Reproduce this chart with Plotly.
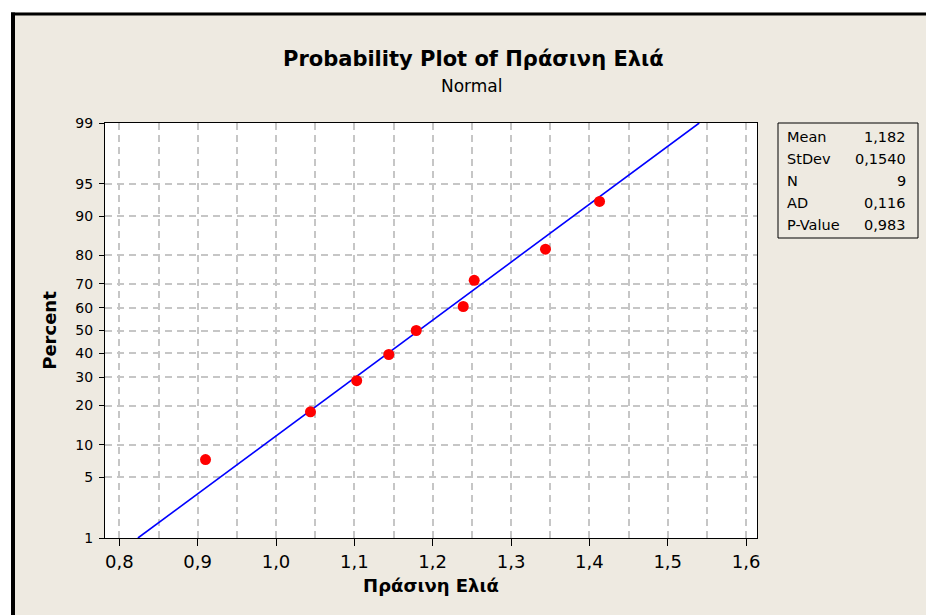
from statistics import NormalDist
import plotly.graph_objects as go

# ---- data ----
values = [0.910, 1.044, 1.103, 1.144, 1.179, 1.239, 1.253, 1.344, 1.413]
percents = [7.4, 18.1, 28.7, 39.4, 50.0, 60.6, 71.3, 81.9, 92.6]
fit_mean = 1.182
fit_stdev = 0.1540
y_tick_percents = [1, 5, 10, 20, 30, 40, 50, 60, 70, 80, 90, 95, 99]
x_tick_values = [0.8, 0.9, 1.0, 1.1, 1.2, 1.3, 1.4, 1.5, 1.6]
stat_labels = ["Mean", "StDev", "N", "AD", "P-Value"]
stat_values = ["1,182", "0,1540", "9", "0,116", "0,983"]

nd = NormalDist()
def pz(p):
    return nd.inv_cdf(p / 100.0)

W, H = 926, 615
L, R, T, B = 105, 757, 123, 538
BEIGE = "#eeeae1"

def px(xp):
    return (xp - L) / (R - L)
def py(yp):
    return (B - yp) / (B - T)

fig = go.Figure()

# fitted line between 1% and 99%
line_p = [y_tick_percents[0], y_tick_percents[-1]]
fig.add_trace(go.Scatter(
    x=[fit_mean + fit_stdev * pz(p) for p in line_p],
    y=[pz(p) for p in line_p],
    mode="lines", line=dict(color="#0000ff", width=1.6), hoverinfo="skip"))

fig.add_trace(go.Scatter(
    x=values, y=[pz(p) for p in percents], mode="markers",
    marker=dict(color="#ff0000", size=11, line=dict(width=0))))

grid_col = "#c6c6c6"
dash = "7px,5px"
gw = 1.5
fig.update_xaxes(
    range=[0.7817, 1.614], tickvals=x_tick_values, tickformat=".1f",
    showline=True, linecolor="black", linewidth=1, mirror=True,
    ticks="outside", ticklen=7, tickcolor="black", tickwidth=1,
    tickfont=dict(size=18, color="black"),
    showgrid=True, gridcolor=grid_col, griddash=dash, gridwidth=gw,
    minor=dict(dtick=0.05, tick0=0.8, showgrid=True, gridcolor=grid_col,
               griddash=dash, gridwidth=gw, ticks=""),
    zeroline=False,
    title=dict(text="<b>Πράσινη Ελιά</b>", font=dict(size=18, color="black"), standoff=8))
fig.update_yaxes(
    range=[pz(1), pz(99)],
    tickvals=[pz(p) for p in y_tick_percents],
    ticktext=[str(p) for p in y_tick_percents],
    showline=True, linecolor="black", linewidth=1, mirror=True,
    ticks="outside", ticklen=5, tickcolor="black", tickwidth=1,
    tickfont=dict(size=14, color="black"), ticklabelstandoff=3,
    showgrid=True, gridcolor=grid_col, griddash=dash, gridwidth=gw,
    zeroline=False,
    title=dict(text="<b>Percent</b>", font=dict(size=18, color="black"), standoff=14))

shapes = [
    # white outside of frame
    dict(type="rect", xref="paper", yref="paper", x0=px(0), x1=px(11), y0=py(H), y1=py(0),
         fillcolor="white", line=dict(width=0), layer="above"),
    dict(type="rect", xref="paper", yref="paper", x0=px(0), x1=px(W), y0=py(12.5), y1=py(0),
         fillcolor="white", line=dict(width=0), layer="above"),
    # frame lines
    dict(type="rect", xref="paper", yref="paper", x0=px(11), x1=px(15), y0=py(H), y1=py(12.5),
         fillcolor="black", line=dict(width=0), layer="above"),
    dict(type="rect", xref="paper", yref="paper", x0=px(11), x1=px(W), y0=py(15.5), y1=py(12.5),
         fillcolor="black", line=dict(width=0), layer="above"),
    # stats box
    dict(type="rect", xref="paper", yref="paper", x0=px(778), x1=px(918), y0=py(238), y1=py(123),
         fillcolor=BEIGE, line=dict(color="black", width=1), layer="above"),
]

annotations = [
    dict(text="<b>Probability Plot of Πράσινη Ελιά</b>", xref="paper", yref="paper",
         x=px(474), y=py(59), xanchor="center", yanchor="middle", showarrow=False,
         font=dict(size=21, color="black")),
    dict(text="Normal", xref="paper", yref="paper",
         x=px(472), y=py(86), xanchor="center", yanchor="middle", showarrow=False,
         font=dict(size=17, color="black")),
]
row_y = [137, 159, 181, 203, 225]
for lab, val, ry in zip(stat_labels, stat_values, row_y):
    annotations.append(dict(text=lab, xref="paper", yref="paper", x=px(785), y=py(ry),
                            xanchor="left", yanchor="middle", showarrow=False,
                            font=dict(size=14.5, color="black")))
    annotations.append(dict(text=val, xref="paper", yref="paper", x=px(908), y=py(ry),
                            xanchor="right", yanchor="middle", showarrow=False,
                            font=dict(size=14.5, color="black")))

fig.update_layout(
    width=W, height=H,
    margin=dict(l=L, r=W - R, t=T, b=H - B, pad=0),
    paper_bgcolor=BEIGE, plot_bgcolor="white",
    font=dict(family="DejaVu Sans", color="black"),
    separators=",.", showlegend=False,
    shapes=shapes, annotations=annotations)

fig.write_html("out.html", config={"displayModeBar": False},
               post_script="document.body.style.margin='0';document.body.style.overflow='hidden';")
